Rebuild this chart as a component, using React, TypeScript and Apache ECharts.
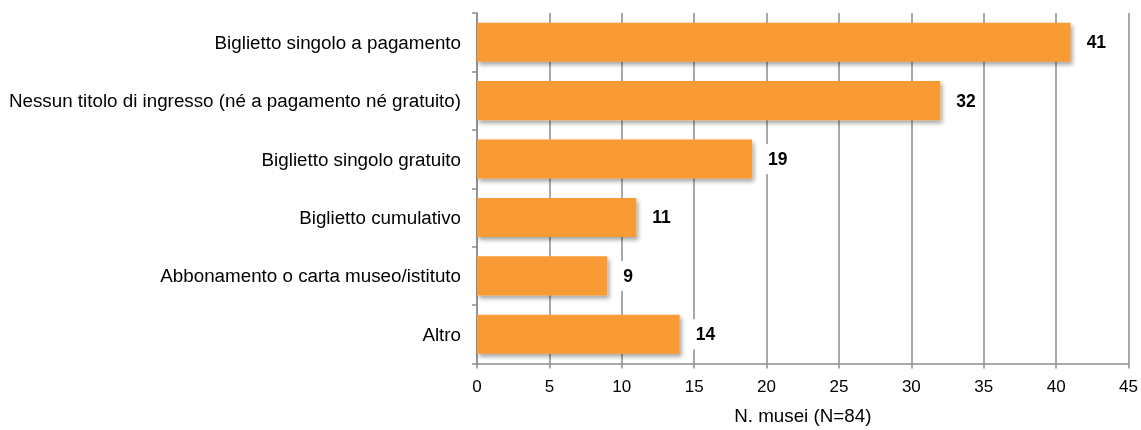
import React, { useEffect, useRef } from "react";
import * as echarts from "echarts";

const categories = [
  "Biglietto singolo a pagamento",
  "Nessun titolo di ingresso (né a pagamento né gratuito)",
  "Biglietto singolo gratuito",
  "Biglietto cumulativo",
  "Abbonamento o carta museo/istituto",
  "Altro",
];
const values = [41, 32, 19, 11, 9, 14];
const axisName = "N. musei (N=84)";

export default function App() {
  const ref = useRef<HTMLDivElement>(null);
  useEffect(() => {
    const chart = echarts.init(ref.current!, null, { renderer: "svg" });
    chart.setOption({
      animation: false,
      textStyle: { fontFamily: "Liberation Sans, Arial, sans-serif" },
      grid: { left: 477, right: 10, top: 13, bottom: 60, containLabel: false },
      xAxis: {
        type: "value",
        min: 0,
        max: 45,
        interval: 5,
        name: axisName,
        nameLocation: "middle",
        nameGap: 52,
        nameTextStyle: { fontSize: 18.8, color: "#000", verticalAlign: "middle" },
        axisLine: { show: true, lineStyle: { color: "#8c8c8c", width: 1.5 } },
        axisTick: { show: true, length: 5, lineStyle: { color: "#8c8c8c", width: 1.5 } },
        axisLabel: { fontSize: 17, color: "#000", margin: 14 },
        splitLine: { show: true, lineStyle: { color: "#8c8c8c", width: 1.5 } },
      },
      yAxis: {
        type: "category",
        data: categories,
        inverse: true,
        axisLine: { show: true, lineStyle: { color: "#8c8c8c", width: 1.5 } },
        axisTick: { show: true, length: 5, lineStyle: { color: "#8c8c8c", width: 1.5 } },
        axisLabel: { fontSize: 18.8, color: "#000", margin: 16 },
      },
      series: [
        {
          type: "bar",
          data: values,
          barWidth: "67%",
          itemStyle: {
            color: "#F99B34",
            shadowColor: "rgba(0,0,0,0.35)",
            shadowBlur: 4,
            shadowOffsetX: 2,
            shadowOffsetY: 3,
          },
          label: {
            show: true,
            position: "right",
            distance: 10,
            fontSize: 17.5,
            fontWeight: "bold",
            color: "#000",
            backgroundColor: "#fff",
            padding: [6, 6],
          },
        },
      ],
    });
    return () => chart.dispose();
  }, []);
  return <div ref={ref} style={{ position: "fixed", left: 0, top: 0, width: 1141, height: 430 }} />;
}
